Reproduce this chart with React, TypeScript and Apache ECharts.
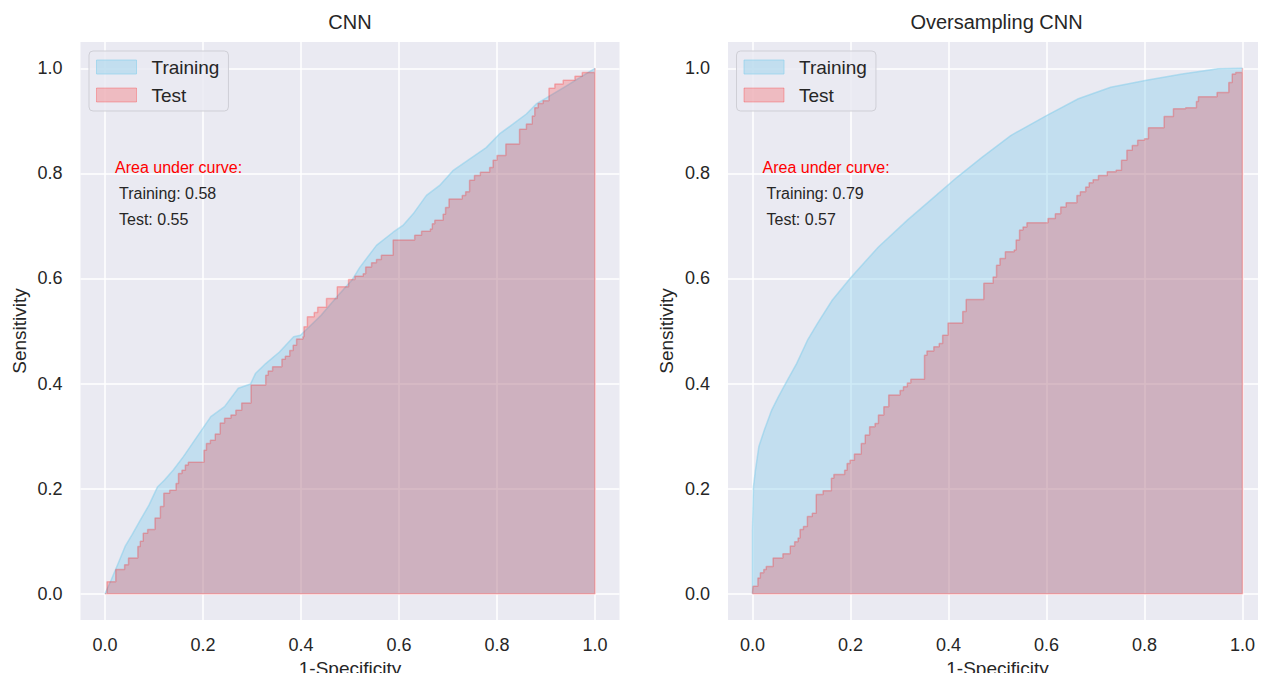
import React, { useEffect, useRef } from "react";
import * as echarts from "echarts";

const TICKS = [0, 0.2, 0.4, 0.6, 0.8, 1.0];
const PANEL_TITLES = ["CNN", "Oversampling CNN"];
const SERIES_NAMES = ["Training", "Test"];
const AUC_TRAIN = ["0.58", "0.79"];
const AUC_TEST = ["0.55", "0.57"];

const CNN_TRAIN: number[][] = [
  [0, 0], [0.013, 0.027], [0.027, 0.058], [0.041, 0.09], [0.055, 0.112], [0.072, 0.14],
  [0.09, 0.169], [0.107, 0.203], [0.121, 0.216], [0.139, 0.235], [0.16, 0.261], [0.188, 0.299],
  [0.216, 0.337], [0.244, 0.356], [0.272, 0.391], [0.297, 0.399], [0.307, 0.419], [0.328, 0.438],
  [0.356, 0.46], [0.385, 0.489], [0.399, 0.492], [0.441, 0.53], [0.476, 0.568], [0.504, 0.597],
  [0.52, 0.621], [0.554, 0.663], [0.588, 0.688], [0.608, 0.701], [0.629, 0.723], [0.656, 0.758],
  [0.683, 0.777], [0.71, 0.805], [0.744, 0.827], [0.778, 0.849], [0.805, 0.875], [0.833, 0.894],
  [0.86, 0.913], [0.88, 0.932], [0.9, 0.943], [0.941, 0.966], [0.969, 0.982], [1, 1],
];

const CNN_TEST: number[][] = [
  [0, 0], [0.004, 0.023], [0.022, 0.046], [0.04, 0.055], [0.048, 0.068], [0.067, 0.09],
  [0.072, 0.1], [0.078, 0.115], [0.087, 0.122], [0.102, 0.144], [0.113, 0.166], [0.12, 0.191],
  [0.132, 0.197], [0.145, 0.21], [0.15, 0.229], [0.157, 0.235], [0.164, 0.245], [0.17, 0.25],
  [0.202, 0.273], [0.207, 0.286], [0.215, 0.292], [0.225, 0.304], [0.235, 0.325], [0.244, 0.334],
  [0.257, 0.34], [0.267, 0.349], [0.279, 0.363], [0.298, 0.397], [0.328, 0.416], [0.333, 0.424],
  [0.342, 0.432], [0.361, 0.446], [0.368, 0.452], [0.377, 0.463], [0.384, 0.473], [0.391, 0.485],
  [0.404, 0.489], [0.406, 0.508], [0.413, 0.527], [0.427, 0.535], [0.434, 0.545], [0.452, 0.562],
  [0.474, 0.584], [0.497, 0.598], [0.51, 0.604], [0.527, 0.609], [0.532, 0.622], [0.544, 0.63],
  [0.554, 0.636], [0.564, 0.644], [0.588, 0.673], [0.632, 0.682], [0.646, 0.69], [0.664, 0.694],
  [0.668, 0.704], [0.673, 0.711], [0.69, 0.722], [0.695, 0.735], [0.702, 0.751], [0.729, 0.758],
  [0.736, 0.765], [0.744, 0.787], [0.754, 0.796], [0.766, 0.802], [0.785, 0.811], [0.792, 0.825],
  [0.8, 0.834], [0.818, 0.856], [0.846, 0.884], [0.86, 0.894], [0.872, 0.909], [0.877, 0.925],
  [0.884, 0.933], [0.894, 0.938], [0.906, 0.962], [0.918, 0.97], [0.935, 0.977], [0.959, 0.985],
  [0.974, 0.992], [1, 1],
];

const OS_TRAIN: number[][] = [
  [0, 0], [0, 0.12], [0.002, 0.204], [0.006, 0.235], [0.013, 0.28], [0.024, 0.311],
  [0.039, 0.349], [0.053, 0.375], [0.071, 0.406], [0.09, 0.438], [0.112, 0.482], [0.133, 0.515],
  [0.163, 0.559], [0.199, 0.6], [0.257, 0.66], [0.316, 0.711], [0.367, 0.752], [0.418, 0.793],
  [0.469, 0.831], [0.527, 0.872], [0.6, 0.91], [0.665, 0.942], [0.731, 0.964], [0.804, 0.977],
  [0.877, 0.989], [0.95, 0.999], [1, 1],
];

const OS_TEST: number[][] = [
  [0, 0], [0.001, 0.014], [0.011, 0.03], [0.016, 0.04], [0.023, 0.046], [0.028, 0.052],
  [0.042, 0.068], [0.062, 0.076], [0.077, 0.091], [0.086, 0.099], [0.093, 0.106], [0.097, 0.122],
  [0.104, 0.128], [0.112, 0.147], [0.122, 0.153], [0.13, 0.189], [0.144, 0.196], [0.161, 0.22],
  [0.166, 0.227], [0.188, 0.235], [0.193, 0.248], [0.199, 0.254], [0.208, 0.266], [0.222, 0.286],
  [0.23, 0.302], [0.239, 0.318], [0.25, 0.324], [0.257, 0.34], [0.268, 0.356], [0.278, 0.378],
  [0.301, 0.387], [0.308, 0.394], [0.316, 0.401], [0.323, 0.408], [0.351, 0.454], [0.356, 0.462],
  [0.37, 0.47], [0.381, 0.476], [0.388, 0.492], [0.399, 0.515], [0.429, 0.537], [0.436, 0.56],
  [0.472, 0.591], [0.491, 0.603], [0.498, 0.625], [0.505, 0.638], [0.516, 0.651], [0.534, 0.654],
  [0.538, 0.673], [0.545, 0.692], [0.552, 0.698], [0.56, 0.706], [0.603, 0.714], [0.618, 0.723],
  [0.629, 0.736], [0.64, 0.744], [0.662, 0.758], [0.669, 0.765], [0.68, 0.774], [0.687, 0.782],
  [0.695, 0.788], [0.706, 0.796], [0.724, 0.803], [0.742, 0.806], [0.753, 0.825], [0.764, 0.844],
  [0.775, 0.853], [0.786, 0.863], [0.8, 0.866], [0.808, 0.887], [0.84, 0.908], [0.859, 0.923],
  [0.884, 0.925], [0.906, 0.937], [0.91, 0.946], [0.948, 0.954], [0.972, 0.973], [0.979, 0.989],
  [0.986, 0.992], [1, 1],
];

// closing vertices of the filled ROC polygon (drop to baseline at x=1, back to origin)
const CLOSE: number[][] = [[1, 0], [0, 0]];

const FONT = "Liberation Sans, Arial, Helvetica, sans-serif";
const TEXT = "#262626";
const BG = "#EAEAF2";
const TRAIN_FILL = "rgba(135,206,235,0.4)";
const TRAIN_EDGE = "rgba(135,206,235,0.55)";
const TEST_FILL = "rgba(255,0,0,0.2)";
const TEST_EDGE = "rgba(255,0,0,0.24)";

const GRIDS = [
  { left: 80.5, top: 42, width: 539, height: 578 },
  { left: 728, top: 42, width: 539, height: 578 },
];

export default function App() {
  const ref = useRef<HTMLDivElement>(null);
  useEffect(() => {
    if (!ref.current) return;
    const chart = echarts.init(ref.current, null, { renderer: "svg" });
    const curves = [
      [CNN_TRAIN, CNN_TEST],
      [OS_TRAIN, OS_TEST],
    ];

    const axisCommon = (gi: number) => ({
      gridIndex: gi,
      type: "value",
      min: -0.05,
      max: 1.05,
      axisLine: { show: false },
      axisTick: { show: false, customValues: TICKS },
      axisLabel: {
        customValues: TICKS,
        color: TEXT,
        fontSize: 18,
        fontFamily: FONT,
        formatter: (v: number) => v.toFixed(1),
      },
      splitLine: { show: true, lineStyle: { color: "#ffffff", width: 1.5 } },
      nameLocation: "middle",
      nameTextStyle: { color: TEXT, fontSize: 19, fontFamily: FONT },
    });

    const series: any[] = [];
    curves.forEach((pair, gi) => {
      series.push({
        name: SERIES_NAMES[0],
        type: "line",
        xAxisIndex: gi,
        yAxisIndex: gi,
        data: pair[0],
        showSymbol: false,
        symbol: "none",
        lineStyle: { color: TRAIN_EDGE, width: 1.5 },
        itemStyle: { color: TRAIN_FILL },
        areaStyle: { color: TRAIN_FILL, opacity: 1 },
        z: 2,
        silent: true,
      });
      series.push({
        name: SERIES_NAMES[1],
        type: "line",
        xAxisIndex: gi,
        yAxisIndex: gi,
        data: pair[1].concat(CLOSE),
        step: "end",
        showSymbol: false,
        symbol: "none",
        lineStyle: { color: TEST_EDGE, width: 1.5 },
        itemStyle: { color: TEST_FILL },
        areaStyle: { color: TEST_FILL, opacity: 1 },
        z: 3,
        silent: true,
      });
    });

    const legendItems = [
      { name: SERIES_NAMES[0], icon: "rect", itemStyle: { color: TRAIN_FILL, borderColor: "rgba(135,206,235,0.6)", borderWidth: 1 } },
      { name: SERIES_NAMES[1], icon: "rect", itemStyle: { color: TEST_FILL, borderColor: "rgba(255,0,0,0.25)", borderWidth: 1 } },
    ];

    const graphics: any[] = [];
    GRIDS.forEach((g, gi) => {
      const x0 = g.left + 34.5;
      graphics.push(
        { type: "text", left: x0, top: 159, z: 100, silent: true, style: { text: "Area under curve:", fill: "#ff0000", font: `16px ${FONT}` } },
        { type: "text", left: x0 + 4, top: 185, z: 100, silent: true, style: { text: `Training: ${AUC_TRAIN[gi]}`, fill: TEXT, font: `16px ${FONT}` } },
        { type: "text", left: x0 + 4, top: 211, z: 100, silent: true, style: { text: `Test: ${AUC_TEST[gi]}`, fill: TEXT, font: `16px ${FONT}` } }
      );
    });

    chart.setOption({
      animation: false,
      backgroundColor: "#ffffff",
      title: PANEL_TITLES.map((t, gi) => ({
        text: t,
        left: GRIDS[gi].left + GRIDS[gi].width / 2 - (gi === 1 ? 1 : 0),
        textAlign: "center",
        top: 12,
        padding: 0,
        textStyle: { color: TEXT, fontSize: 20, fontWeight: "normal", fontFamily: FONT },
      })),
      grid: GRIDS.map((g) => ({
        ...g,
        backgroundColor: BG,
        show: true,
        borderWidth: 0,
        containLabel: false,
        outerBoundsMode: "none",
      })),
      xAxis: GRIDS.map((_, gi) => ({
        ...axisCommon(gi),
        name: "1-Specificity",
        nameGap: 38,
        axisLabel: { ...axisCommon(gi).axisLabel, margin: 16 },
      })),
      yAxis: GRIDS.map((_, gi) => ({
        ...axisCommon(gi),
        name: "Sensitivity",
        nameGap: 52,
        axisLabel: { ...axisCommon(gi).axisLabel, margin: 18 },
      })),
      legend: GRIDS.map((g) => ({
        orient: "vertical",
        left: g.left + 8.5,
        top: 51,
        itemWidth: 40,
        itemHeight: 14,
        itemGap: 8,
        padding: [6, 9, 6, 7],
        backgroundColor: "rgba(234,234,242,0.85)",
        borderColor: "#cfcfd6",
        borderWidth: 1,
        borderRadius: 4,
        selectedMode: false,
        textStyle: { color: TEXT, fontSize: 19, fontFamily: FONT, lineHeight: 20, padding: [0, 0, 0, 10] },
        data: legendItems,
      })),
      graphic: graphics,
      series,
    });
    return () => chart.dispose();
  }, []);
  return <div ref={ref} style={{ width: 1266, height: 681, margin: -8 }} />;
}
